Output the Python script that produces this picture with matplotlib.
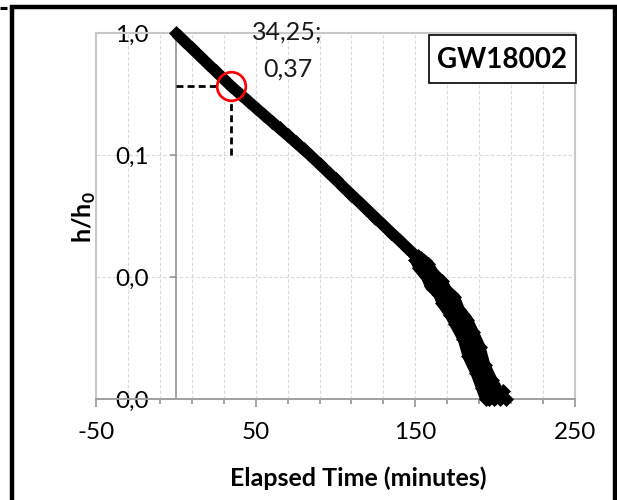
import numpy as np
import matplotlib
matplotlib.use('Agg')
import matplotlib.pyplot as plt
from matplotlib.ticker import FixedLocator, NullLocator, FixedFormatter
from matplotlib.lines import Line2D
from matplotlib.patches import Rectangle

plt.rcParams['font.family'] = ['Lato', 'DejaVu Sans']
plt.rcParams['mathtext.fontset'] = 'custom'
plt.rcParams['mathtext.rm'] = 'Lato'
plt.rcParams['mathtext.bf'] = 'Lato:bold'

# ---- data ----
time_main = [0, 5, 10, 15, 20, 25, 30, 34.25, 40, 45, 50, 55, 60, 65, 70, 75, 80, 84,
             90, 95, 100, 105, 110, 115, 120, 125, 130, 135, 140, 145, 150, 155, 160,
             165, 170, 175, 180, 185, 190, 195, 199]
ratio_main = [1.0, 0.865, 0.748, 0.647, 0.560, 0.484, 0.419, 0.37, 0.318, 0.279, 0.244,
              0.214, 0.188, 0.165, 0.145, 0.127, 0.111, 0.100, 0.0841, 0.0729, 0.0631,
              0.0546, 0.0473, 0.0410, 0.0355, 0.0307, 0.0266, 0.0230, 0.0200, 0.0173,
              0.0150, 0.0123, 0.0100, 0.0081, 0.0068, 0.0051, 0.0041, 0.0029, 0.0019,
              0.00132, 0.0010]
# scatter of the noisy tail: early-side and late-side readings
time_tail_early = [150, 152.5, 157, 159.5, 164.5, 167, 172, 175, 180, 183, 188, 191.5, 194]
ratio_tail_early = [0.01387, 0.0118, 0.0100, 0.00843, 0.00729, 0.00607, 0.00489,
                    0.00410, 0.00310, 0.00225, 0.00164, 0.00123, 0.0010]
time_tail_late = [151.5, 158, 161, 166.5, 169.5, 174.5, 177.5, 182.5, 186, 190.5,
                  193.5, 198, 202]
ratio_tail_late = [0.0150, 0.01279, 0.01087, 0.00919, 0.00782, 0.0068, 0.00541,
                   0.00448, 0.00357, 0.00266, 0.0019, 0.00142, 0.00115]
time_end = [196, 200, 203, 205, 207]
ratio_end = [0.00100, 0.00102, 0.00100, 0.00117, 0.00100]

x_ticks = [-50, 50, 150, 250]
x_tick_labels = ['-50', '50', '150', '250']
x_minor = list(range(-50, 251, 20))
y_ticks = [0.001, 0.01, 0.1, 1.0]
y_tick_labels = ['0,0', '0,0', '0,1', '1,0']
mark_time = 34.25
mark_ratio = 0.37
mark_label = '34,25;\n0,37'
well_id = 'GW18002'

W, H = 617, 500
fig = plt.figure(figsize=(W / 100, H / 100), dpi=100)
ax = fig.add_axes([96 / W, 1 - 399 / H, (575 - 96) / W, (399 - 33) / H])
ax.set_yscale('log')
ax.set_xlim(-50, 250)
ax.set_ylim(0.001, 1.0)

# ticks
ax.xaxis.set_major_locator(FixedLocator(x_ticks))
ax.xaxis.set_major_formatter(FixedFormatter(x_tick_labels))
ax.xaxis.set_minor_locator(FixedLocator(x_minor))
ax.yaxis.set_major_locator(FixedLocator(y_ticks))
ax.yaxis.set_major_formatter(FixedFormatter(y_tick_labels))
ax.yaxis.set_minor_locator(NullLocator())

axis_gray = '#8c8c8c'
border_gray = '#c8c8c8'
grid_gray = '#d9d9d9'

ax.tick_params(axis='x', which='major', direction='out', length=5.8, width=1.1,
               color=axis_gray, labelsize=17.5, pad=11, labelcolor='black')
ax.tick_params(axis='x', which='minor', direction='out', length=3.6, width=1.1,
               color=axis_gray)
ax.tick_params(axis='y', which='major', direction='out', length=4.3, width=1.1,
               color=axis_gray, labelsize=17.5, pad=15, labelcolor='black')

# spines
ax.spines['left'].set_position(('data', 0))
ax.spines['left'].set_color(axis_gray)
ax.spines['left'].set_linewidth(1.1)
ax.spines['bottom'].set_color('#a0a0a0')
ax.spines['bottom'].set_linewidth(1.4)
ax.spines['top'].set_color(border_gray)
ax.spines['top'].set_linewidth(1.5)
ax.spines['right'].set_color(border_gray)
ax.spines['right'].set_linewidth(1.5)
ax.add_line(Line2D([0, 0], [0, 1], transform=ax.transAxes, color=border_gray,
                   lw=1.5, clip_on=False, zorder=1))

# grid
for xv in x_minor[1:-1]:
    ax.axvline(xv, color=grid_gray, lw=0.8, ls=(0, (3, 2)), zorder=0.5)
for yv in y_ticks[1:-1]:
    ax.axhline(yv, color=grid_gray, lw=0.8, ls=(0, (3, 2)), zorder=0.5)

# reading guides
ax.plot([0, mark_time], [mark_ratio, mark_ratio], color='black', lw=2.0,
        ls=(0, (2.5, 1.5)), zorder=3)
ax.plot([mark_time, mark_time], [0.1, mark_ratio], color='black', lw=2.0,
        ls=(0, (2.5, 1.5)), zorder=3)
ax.plot([mark_time], [mark_ratio], marker='o', ms=20.6, mfc='white', mec='none',
        zorder=4)

# data
band = dict(color='black', lw=8.0, solid_capstyle='butt', solid_joinstyle='miter',
            marker='D', ms=7.4, mew=0.5, mec='black', mfc='black', zorder=5,
            clip_on=False)
ax.plot(time_main, ratio_main, **band)
ax.plot(time_tail_early, ratio_tail_early, **band)
ax.plot(time_tail_late, ratio_tail_late, **band)
ax.plot(time_end, ratio_end, ls='none', marker='D', ms=7.4, mew=0.5,
        mec='black', mfc='black', zorder=5, clip_on=False)

# red circle
ax.plot([mark_time], [mark_ratio], marker='o', ms=20.6, mfc='none', mec='#ff0000',
        mew=1.95, zorder=6)
ax.annotate(mark_label, xy=(mark_time, mark_ratio), xytext=(57, 35),
            textcoords='offset pixels', ha='center', va='center', fontsize=18,
            linespacing=1.7, color='#1a1a1a', zorder=7)

# axis titles
fig.text(358 / W, 1 - 478 / H, 'Elapsed Time (minutes)', ha='center', va='center',
         fontsize=18, fontweight='bold', color='black')
fig.text(84 / W, 1 - 217 / H, 'h/h$_\\mathbf{0}$', ha='center', va='center',
         rotation=90, fontsize=18, fontweight='bold', color='black')

# well id box
fig.add_artist(Rectangle((429 / W, 1 - 83 / H), (576 - 429) / W, (83 - 35) / H,
                         transform=fig.transFigure, facecolor='white',
                         edgecolor='black', lw=1.2, zorder=8))
fig.text(502 / W, 1 - 59.5 / H, well_id, ha='center', va='center', fontsize=20,
         fontweight='bold', color='black', zorder=9)

# outer frame
lw_frame = 3.2
fig.add_artist(Line2D([11.7 / W, 11.7 / W], [0, 1 - 5 / H], transform=fig.transFigure,
                      color='black', lw=lw_frame, solid_capstyle='butt'))
fig.add_artist(Line2D([10 / W, 1], [1 - 7 / H, 1 - 7 / H], transform=fig.transFigure,
                      color='black', lw=lw_frame, solid_capstyle='butt'))
fig.add_artist(Line2D([615 / W, 615 / W], [0, 1 - 5 / H], transform=fig.transFigure,
                      color='black', lw=lw_frame, solid_capstyle='butt'))
fig.add_artist(Line2D([0, 7 / W], [1 - 7.5 / H, 1 - 7.5 / H], transform=fig.transFigure,
                      color='black', lw=2.2, solid_capstyle='butt'))

fig.savefig('out.png', dpi=100)
